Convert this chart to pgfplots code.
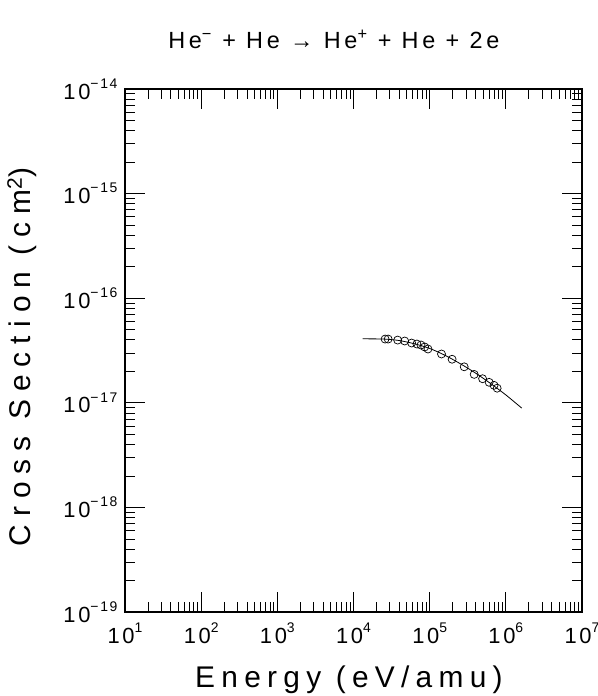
\documentclass[border=0pt]{standalone}
\usepackage{fontspec}
\setmainfont{Liberation Sans}
\newfontfamily\spaced[LetterSpace=16]{Liberation Sans}
\newfontfamily\xspaced[LetterSpace=21]{Liberation Sans}
\newfontfamily\yspaced[LetterSpace=27]{Liberation Sans}
\newfontfamily\tspaced[LetterSpace=12]{Liberation Sans}
\usepackage{pgfplots}
\pgfplotsset{compat=1.18}
\newcommand{\pw}[1]{\tspaced 10\raisebox{0.5em}{\fontsize{14}{14}\selectfont #1}}
\begin{document}
\begin{tikzpicture}
\useasboundingbox (-125bp,-84bp) rectangle (473bp,612bp);
\begin{axis}[
  at={(0,0)}, anchor=south west,
  scale only axis, width=457bp, height=523bp,
  xmode=log, ymode=log,
  xmin=1e1, xmax=1e7, ymin=1e-19, ymax=1e-14,
  axis line style={line width=2bp},
  every tick/.style={line width=0.8bp, black},
  major tick length=20bp, minor tick length=10bp,
  tick align=inside,
  xtick={1e1,1e2,1e3,1e4,1e5,1e6,1e7},
  xticklabels={\pw{1},\pw{2},\pw{3},\pw{4},\pw{5},\pw{6},\pw{7}},
  ytick={1e-19,1e-18,1e-17,1e-16,1e-15,1e-14},
  yticklabels={\pw{−19},\pw{−18},\pw{−17},\pw{−16},\pw{−15},\pw{−14}},
  ticklabel style={font=\fontsize{22}{22}\selectfont},
  xticklabel style={yshift=-7bp},
  yticklabel style={xshift=-4bp},
  title={\spaced He\textsuperscript{−} + He → He\textsuperscript{+} + He + 2e},
  title style={font=\fontsize{23.5}{23.5}\selectfont, at={(axis description cs:0.457,1.084)}, anchor=center},
  xlabel={\xspaced Energy (eV/amu)},
  xlabel style={font=\fontsize{30}{30}\selectfont, at={(axis description cs:0.49,-0.130)}, anchor=center},
  ylabel={\yspaced Cross Section (cm\textsuperscript{2})},
  ylabel style={font=\fontsize{30}{30}\selectfont, at={(axis description cs:-0.225,0.488)}, anchor=center, rotate=0},
]
\addplot[black, line width=0.8bp, smooth] coordinates {
  (1.318e4,4.09e-17) (2.512e4,4.07e-17) (3.981e4,3.94e-17) (6.31e4,3.67e-17)
  (1e5,3.31e-17) (1.585e5,2.85e-17) (2.512e5,2.37e-17) (3.981e5,1.93e-17)
  (6.31e5,1.53e-17) (1e6,1.19e-17) (1.62e6,8.9e-18)
};
\addplot[only marks, mark=o, mark size=4bp, mark options={line width=0.7bp, black}] coordinates {
  (2.6e4,4.07e-17) (2.85e4,4.07e-17) (3.8e4,3.98e-17) (4.7e4,3.9e-17)
  (5.8e4,3.73e-17) (6.8e4,3.65e-17) (7.7e4,3.57e-17) (8.6e4,3.42e-17)
  (9.5e4,3.27e-17) (1.43e5,2.93e-17) (1.97e5,2.61e-17) (2.84e5,2.21e-17)
  (3.84e5,1.87e-17) (4.95e5,1.70e-17) (6.04e5,1.57e-17) (7.0e5,1.47e-17)
  (7.69e5,1.38e-17)
};
\end{axis}
\end{tikzpicture}
\end{document}
